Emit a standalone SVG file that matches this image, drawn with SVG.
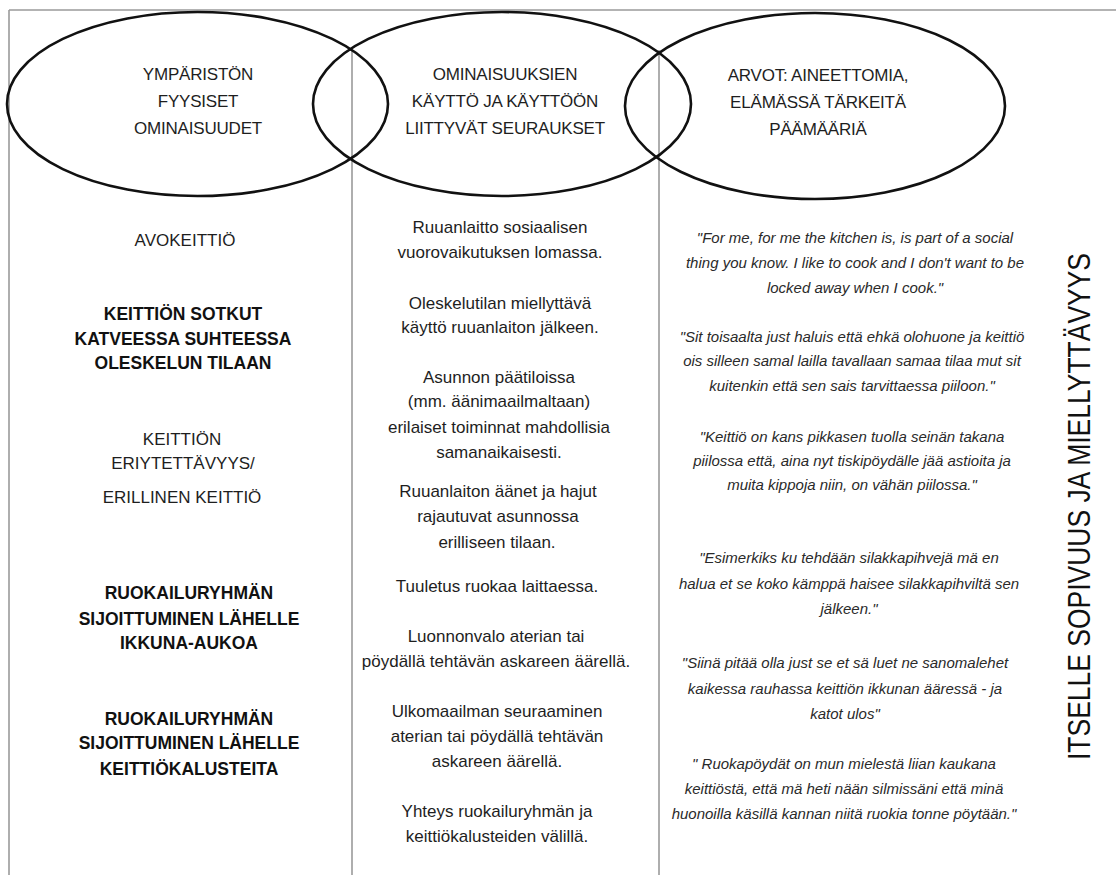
<svg xmlns="http://www.w3.org/2000/svg" width="1116" height="875" viewBox="0 0 1116 875">
<style>
.frame{stroke:#9a9a9a;stroke-width:1.6;fill:none}
.ell{fill:none;stroke:#111;stroke-width:2.6}
.hd{font-family:"Liberation Sans",Arial,sans-serif;font-size:17px;fill:#1e1e1e;text-anchor:middle;letter-spacing:-0.2px}
.lb{font-family:"Liberation Sans",Arial,sans-serif;font-size:17.5px;font-weight:bold;fill:#111;text-anchor:middle}
.lr{font-family:"Liberation Sans",Arial,sans-serif;font-size:17px;fill:#1e1e1e;text-anchor:middle}
.mc{font-family:"Liberation Sans",Arial,sans-serif;font-size:17px;fill:#1e1e1e;text-anchor:middle}
.qt{font-family:"Liberation Sans",Arial,sans-serif;font-size:15px;font-style:italic;fill:#2a2a2a;text-anchor:middle}
.vt{font-family:"Liberation Sans",Arial,sans-serif;font-size:32px;fill:#111;text-anchor:middle}
</style>
<rect width="1116" height="875" fill="#fff"/>
<g id="frame">
<line class="frame" x1="9" y1="10" x2="1116" y2="10"/>
<line class="frame" x1="9" y1="10" x2="9" y2="875"/>
<line class="frame" x1="352" y1="50" x2="352" y2="875"/>
<line class="frame" x1="659" y1="50" x2="659" y2="875"/>
</g>
<g id="ellipse-left">
<ellipse class="ell" cx="197.5" cy="104" rx="190.5" ry="92"/>
<text class="hd" x="198" y="80">YMPÄRISTÖN</text>
<text class="hd" x="198" y="107">FYYSISET</text>
<text class="hd" x="198" y="134">OMINAISUUDET</text>
</g>
<g id="ellipse-middle">
<ellipse class="ell" cx="502" cy="104" rx="189" ry="92"/>
<text class="hd" x="505" y="80">OMINAISUUKSIEN</text>
<text class="hd" x="505" y="107">KÄYTTÖ JA KÄYTTÖÖN</text>
<text class="hd" x="505" y="134">LIITTYVÄT SEURAUKSET</text>
</g>
<g id="ellipse-right">
<ellipse class="ell" cx="815" cy="106" rx="190" ry="93"/>
<text class="hd" x="818" y="81">ARVOT: AINEETTOMIA,</text>
<text class="hd" x="818" y="108">ELÄMÄSSÄ TÄRKEITÄ</text>
<text class="hd" x="818" y="135">PÄÄMÄÄRIÄ</text>
</g>
<g id="col-left">
<text class="lr" x="185" y="246">AVOKEITTIÖ</text>
<text class="lb" x="183" y="320">KEITTIÖN SOTKUT</text>
<text class="lb" x="183" y="345">KATVEESSA SUHTEESSA</text>
<text class="lb" x="183" y="369">OLESKELUN TILAAN</text>
<text class="lr" x="182" y="445">KEITTIÖN</text>
<text class="lr" x="183" y="469">ERIYTETTÄVYYS/</text>
<text class="lr" x="182" y="503">ERILLINEN KEITTIÖ</text>
<text class="lb" x="189" y="599">RUOKAILURYHMÄN</text>
<text class="lb" x="189" y="625">SIJOITTUMINEN LÄHELLE</text>
<text class="lb" x="189" y="649">IKKUNA-AUKOA</text>
<text class="lb" x="189" y="725">RUOKAILURYHMÄN</text>
<text class="lb" x="189" y="749">SIJOITTUMINEN LÄHELLE</text>
<text class="lb" x="189" y="775">KEITTIÖKALUSTEITA</text>
</g>
<g id="col-middle">
<text class="mc" x="500" y="233">Ruuanlaitto sosiaalisen</text>
<text class="mc" x="500" y="258">vuorovaikutuksen lomassa.</text>
<text class="mc" x="500" y="309">Oleskelutilan miellyttävä</text>
<text class="mc" x="500" y="333">käyttö ruuanlaiton jälkeen.</text>
<text class="mc" x="499" y="383">Asunnon päätiloissa</text>
<text class="mc" x="499" y="407">(mm. äänimaailmaltaan)</text>
<text class="mc" x="499" y="433">erilaiset toiminnat mahdollisia</text>
<text class="mc" x="499" y="458">samanaikaisesti.</text>
<text class="mc" x="498" y="497">Ruuanlaiton äänet ja hajut</text>
<text class="mc" x="498" y="522">rajautuvat asunnossa</text>
<text class="mc" x="497" y="548">erilliseen tilaan.</text>
<text class="mc" x="497" y="592">Tuuletus ruokaa laittaessa.</text>
<text class="mc" x="496" y="642">Luonnonvalo aterian tai</text>
<text class="mc" x="496" y="667">pöydällä tehtävän askareen äärellä.</text>
<text class="mc" x="497" y="717">Ulkomaailman seuraaminen</text>
<text class="mc" x="497" y="742">aterian tai pöydällä tehtävän</text>
<text class="mc" x="497" y="767">askareen äärellä.</text>
<text class="mc" x="497" y="817">Yhteys ruokailuryhmän ja</text>
<text class="mc" x="497" y="842">keittiökalusteiden välillä.</text>
</g>
<g id="col-right">
<text class="qt" x="855" y="243">"For me, for me the kitchen is, is part of a social</text>
<text class="qt" x="855" y="268">thing you know. I like to cook and I don't want to be</text>
<text class="qt" x="855" y="293">locked away when I cook."</text>
<text class="qt" x="852" y="342">"Sit toisaalta just haluis että ehkä olohuone ja keittiö</text>
<text class="qt" x="852" y="366">ois silleen samal lailla tavallaan samaa tilaa mut sit</text>
<text class="qt" x="852" y="391">kuitenkin että sen sais tarvittaessa piiloon."</text>
<text class="qt" x="852" y="442">"Keittiö on kans pikkasen tuolla seinän takana</text>
<text class="qt" x="852" y="466">piilossa että, aina nyt tiskipöydälle jää astioita ja</text>
<text class="qt" x="852" y="490">muita kippoja niin, on vähän piilossa."</text>
<text class="qt" x="849" y="563">"Esimerkiks ku tehdään silakkapihvejä mä en</text>
<text class="qt" x="849" y="589">halua et se koko kämppä haisee silakkapihviltä sen</text>
<text class="qt" x="849" y="614">jälkeen."</text>
<text class="qt" x="845" y="668">"Siinä pitää olla just se et sä luet ne sanomalehet</text>
<text class="qt" x="845" y="694">kaikessa rauhassa keittiön ikkunan ääressä -  ja</text>
<text class="qt" x="845" y="719">katot ulos"</text>
<text class="qt" x="844" y="769">" Ruokapöydät on mun mielestä liian kaukana</text>
<text class="qt" x="844" y="794">keittiöstä, että mä heti nään silmissäni että minä</text>
<text class="qt" x="844" y="819">huonoilla käsillä kannan niitä ruokia tonne pöytään."</text>
</g>
<g id="side-label">
<text class="vt" transform="translate(1090,506.5) rotate(-90)" x="0" y="0" textLength="507" lengthAdjust="spacingAndGlyphs">ITSELLE SOPIVUUS JA MIELLYTTÄVYYS</text>
</g>
</svg>
